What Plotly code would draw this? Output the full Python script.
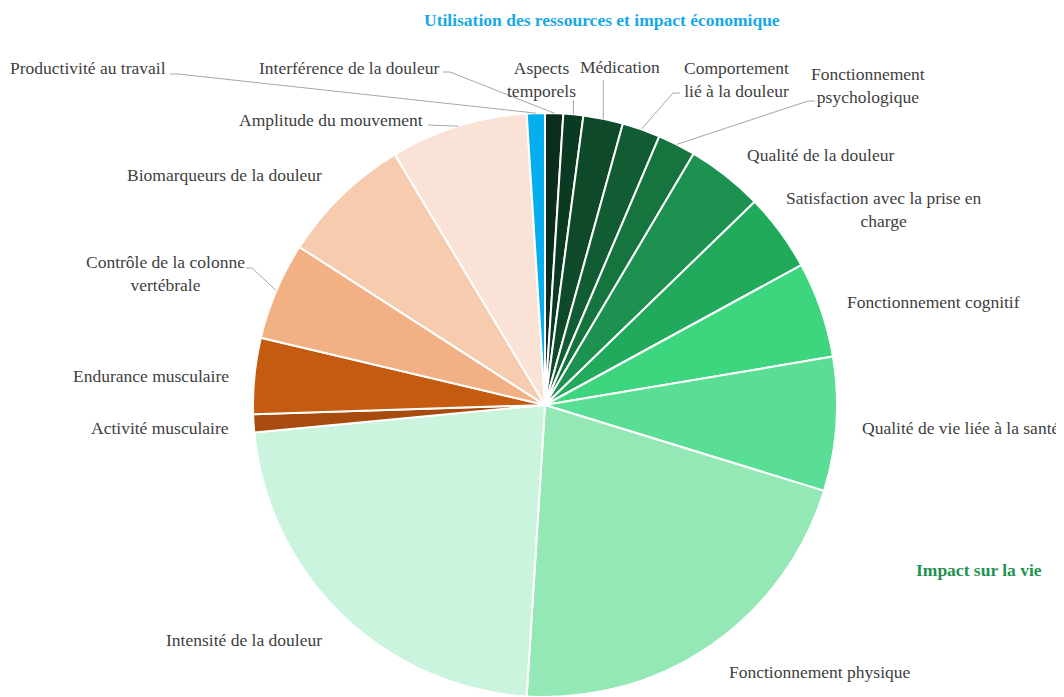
import math
import plotly.graph_objects as go

# ---- data (clockwise from 12 o'clock) ----
labels = [
    "Interférence de la douleur", "Aspects temporels", "Médication",
    "Comportement lié à la douleur", "Fonctionnement psychologique",
    "Qualité de la douleur", "Satisfaction avec la prise en charge",
    "Fonctionnement cognitif", "Qualité de vie liée à la santé",
    "Fonctionnement physique", "Intensité de la douleur",
    "Activité musculaire", "Endurance musculaire",
    "Contrôle de la colonne vertébrale", "Biomarqueurs de la douleur",
    "Amplitude du mouvement", "Productivité au travail",
]
values = [1.0, 1.1, 2.2, 2.1, 2.1, 4.25, 4.3, 5.3, 7.4, 21.25, 22.5,
          1.0, 4.2, 5.4, 7.3, 7.6, 1.0]
display_text = [
    "Interférence de la douleur", "Aspects<br>temporels", "Médication",
    "Comportement<br>lié à la douleur", "Fonctionnement<br>psychologique",
    "Qualité de la douleur", "Satisfaction avec la prise en<br>charge",
    "Fonctionnement cognitif", "Qualité de vie liée à la santé",
    "Fonctionnement physique", "Intensité de la douleur",
    "Activité musculaire", "Endurance musculaire",
    "Contrôle de la colonne<br>vertébrale", "Biomarqueurs de la douleur",
    "Amplitude du mouvement", "Productivité au travail",
]
colors = [
    "#0a2e1b", "#0b3a22", "#0e4a2a", "#125c34", "#16743f", "#1d9150",
    "#22aa5c", "#3dd67f", "#5add94", "#93e8b6", "#caf4dd",
    "#a84b0e", "#c45b11", "#f2b185", "#f7cbae", "#fae3d6", "#05aeef",
]
group_titles = ["Utilisation des ressources et impact économique", "Impact sur la vie"]

# ---- layout (page pixel coordinates; page body has an 8px margin) ----
OFF = 8
W, H = 1056, 689
FONT = "Liberation Serif, Times New Roman, serif"
FS = 17.5
cx_page, cy_page, R = 545, 405, 292

cx, cy = cx_page - OFF, cy_page - OFF
dom_x = [(cx - R) / W, (cx + R) / W]
dom_y = [1 - (cy + R) / H, 1 - (cy - R) / H]

# label positions (page pixels): x, y, xanchor
label_pos = [
    (441, 68, "right"), (541, 79, "center"), (620, 67, "center"),
    (682, 79, "left"), (868, 86, "center"), (745, 155, "left"),
    (884, 210, "center"), (845, 302, "left"), (860, 428, "left"),
    (727, 672, "left"), (324, 640, "right"), (231, 428, "right"),
    (231, 376, "right"), (165, 274, "center"), (324, 175, "right"),
    (425, 120, "right"), (168, 68, "right"),
]
# leader line start points (page pixels)
leaders = {
    16: [(170, 74), (178, 74)],
    0: [(443, 72), (450, 72)],
    1: [(None, 100)],
    2: [(None, 80)],
    3: [(680, 93), (673, 93)],
    4: [(815, 101), (808, 101)],
    13: [(246, 268), (252, 268)],
    15: [(428, 125)],
}

def to_paper(x, y):
    return (x - OFF) / W, 1 - (y - OFF) / H

fig = go.Figure(go.Pie(
    labels=labels, values=values, sort=False, direction="clockwise",
    rotation=0, marker=dict(colors=colors, line=dict(color="white", width=2)),
    textinfo="none", hoverinfo="label+percent", domain=dict(x=dom_x, y=dom_y),
    showlegend=False,
))

total = sum(values)
cum = 0.0
mids = []
for v in values:
    mids.append((cum + v / 2) / total * 360)
    cum += v

annotations = []
for txt, (x, y, xa) in zip(display_text, label_pos):
    xp, yp = to_paper(x, y)
    annotations.append(dict(
        x=xp, y=yp, xref="paper", yref="paper", text=txt, showarrow=False,
        xanchor=xa, yanchor="middle", align="center",
        font=dict(family=FONT, size=FS, color="#404040"),
    ))

shapes = []
for i, pts in leaders.items():
    a = math.radians(mids[i])
    ex = cx_page + R * math.sin(a)
    ey = cy_page - R * math.cos(a)
    pts = [(ex if p[0] is None else p[0], p[1]) for p in pts] + [(ex, ey)]
    path = "M " + " L ".join(
        f"{to_paper(px, py)[0]:.5f},{to_paper(px, py)[1]:.5f}" for px, py in pts)
    shapes.append(dict(type="path", path=path, xref="paper", yref="paper",
                       line=dict(color="#a6a6a6", width=1)))

for txt, (x, y), col in zip(group_titles, [(602, 20), (979, 570)], ["#16a9e8", "#1f9150"]):
    xp, yp = to_paper(x, y)
    annotations.append(dict(
        x=xp, y=yp, xref="paper", yref="paper", text=f"<b>{txt}</b>",
        showarrow=False, xanchor="center", yanchor="middle",
        font=dict(family=FONT, size=FS, color=col),
    ))

fig.update_layout(
    width=W, height=H, margin=dict(l=0, r=0, t=0, b=0),
    paper_bgcolor="white", plot_bgcolor="white",
    annotations=annotations, shapes=shapes,
)
fig.write_html("out.html")
